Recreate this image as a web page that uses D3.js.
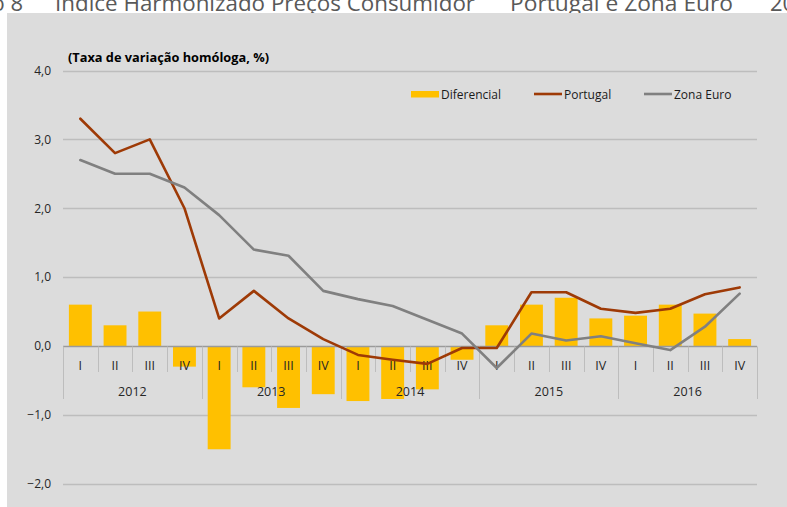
<!DOCTYPE html>
<html>
<head>
<meta charset="utf-8">
<script src="https://cdn.jsdelivr.net/npm/d3@7"></script>
<style>
  html, body { margin: 0; padding: 0; background: #ffffff; }
  svg { display: block; }
  text { font-family: "Open Sans", "Liberation Sans", sans-serif; }
</style>
</head>
<body>
<svg id="chart" width="787" height="507"></svg>
<script>
// ---- Data ----
const years = ["2012", "2013", "2014", "2015", "2016"];
const quarters = ["I", "II", "III", "IV"];
const diferencial = [0.6, 0.3, 0.5, -0.3,  -1.5, -0.6, -0.9, -0.7,  -0.8, -0.77, -0.63, -0.2,  0.3, 0.6, 0.7, 0.4,  0.44, 0.6, 0.47, 0.1];
const portugal    = [3.3, 2.8, 3.0, 2.0,   0.4, 0.8, 0.4, 0.1,   -0.13, -0.2, -0.26, -0.03,  -0.03, 0.78, 0.78, 0.54,  0.48, 0.54, 0.75, 0.85];
const zonaEuro    = [2.7, 2.5, 2.5, 2.3,   1.9, 1.4, 1.31, 0.8,   0.68, 0.58, 0.38, 0.18,  -0.32, 0.18, 0.08, 0.14,  0.04, -0.06, 0.28, 0.76];
const yTicks = [-2, -1, 0, 1, 2, 3, 4];
const seriesNames = ["Diferencial", "Portugal", "Zona Euro"];
const seriesColors = ["#FFC000", "#9E3A06", "#808080"];
const titleParts = ["Gráfico 8", "Índice Harmonizado Preços Consumidor", "Portugal e Zona Euro", "2012-2016"];

const cats = [];
years.forEach(y => quarters.forEach(q => cats.push(y + "-" + q)));

const svg = d3.select("#chart");

// Top (cropped) title
const tg = svg.append("g").attr("font-size", 22).attr("fill", "#595959");
tg.append("text").attr("x", 23).attr("y", 11).attr("text-anchor", "end").text(titleParts[0]);
tg.append("text").attr("x", 55).attr("y", 11).attr("textLength", 420).attr("lengthAdjust", "spacingAndGlyphs").text(titleParts[1]);
tg.append("text").attr("x", 510).attr("y", 11).attr("textLength", 223).attr("lengthAdjust", "spacingAndGlyphs").text(titleParts[2]);
tg.append("text").attr("x", 770).attr("y", 11).text(titleParts[3]);

// Panel background
svg.append("rect")
  .attr("x", 7).attr("y", 13).attr("width", 780).attr("height", 494)
  .attr("fill", "#DCDCDC");

// Scales
const x = d3.scaleBand().domain(cats).range([63, 757]).paddingInner(0.34).paddingOuter(0.17);
const step = x.step();
const cx = c => x(c) + x.bandwidth() / 2;
const y = d3.scaleLinear().domain([-2, 4]).range([483.7, 70.5]);

// Gridlines
svg.append("g").selectAll("line").data(yTicks.filter(t => t !== 0)).join("line")
  .attr("x1", 63).attr("x2", 757)
  .attr("y1", d => Math.round(y(d)) + 0.5).attr("y2", d => Math.round(y(d)) + 0.5)
  .attr("stroke", "#BDBDBD").attr("stroke-width", 1.3);

// Y axis labels
const yAxis = d3.axisLeft(y).tickValues(yTicks).tickSize(0).tickPadding(0)
  .tickFormat(d => d3.format(".1f")(d).replace(".", ","));
const yg = svg.append("g").attr("transform", "translate(51,0)").call(yAxis);
yg.select(".domain").remove();
yg.selectAll("text").attr("font-size", 12).attr("fill", "#262626")
  .attr("font-family", "Open Sans, Liberation Sans, sans-serif");

// Bars
svg.append("g").selectAll("rect").data(diferencial).join("rect")
  .attr("x", (d, i) => x(cats[i]))
  .attr("width", x.bandwidth())
  .attr("y", d => Math.min(y(d), y(0)))
  .attr("height", d => Math.abs(y(d) - y(0)))
  .attr("fill", seriesColors[0]);

// Category axis: zero line, dividers, labels
const y0 = Math.round(y(0)) + 0.5;
svg.append("line").attr("x1", 63).attr("x2", 757).attr("y1", y0).attr("y2", y0)
  .attr("stroke", "#9A9A9A").attr("stroke-width", 1.3);

const divs = d3.range(0, 21);
svg.append("g").selectAll("line").data(divs).join("line")
  .attr("x1", i => Math.round(63 + i * step) + 0.5)
  .attr("x2", i => Math.round(63 + i * step) + 0.5)
  .attr("y1", y0)
  .attr("y2", i => (i % 4 === 0) ? 399 : 372)
  .attr("stroke", "#BDBDBD").attr("stroke-width", 1);

svg.append("g").selectAll("text").data(cats).join("text")
  .attr("x", c => cx(c)).attr("y", 365)
  .attr("text-anchor", "middle").attr("dominant-baseline", "central")
  .attr("font-size", 12.5).attr("fill", "#262626")
  .text(c => c.split("-")[1]);

svg.append("g").selectAll("text").data(years).join("text")
  .attr("x", (yr, i) => 63 + (i * 4 + 2) * step).attr("y", 391)
  .attr("text-anchor", "middle").attr("dominant-baseline", "central")
  .attr("font-size", 12.5).attr("fill", "#262626")
  .text(d => d);

// Lines
const line = d3.line().x((d, i) => cx(cats[i])).y(d => y(d));
svg.append("path").datum(portugal).attr("d", line)
  .attr("fill", "none").attr("stroke", seriesColors[1]).attr("stroke-width", 2.6)
  .attr("stroke-linejoin", "round").attr("stroke-linecap", "round");
svg.append("path").datum(zonaEuro).attr("d", line)
  .attr("fill", "none").attr("stroke", seriesColors[2]).attr("stroke-width", 2.6)
  .attr("stroke-linejoin", "round").attr("stroke-linecap", "round");

// Subtitle
svg.append("text").attr("x", 68).attr("y", 57)
  .attr("dominant-baseline", "central")
  .attr("font-size", 12.5).attr("font-weight", "bold").attr("fill", "#000")
  .attr("textLength", 201).attr("lengthAdjust", "spacingAndGlyphs")
  .text("(Taxa de variação homóloga, %)");

// Legend
const legX = [411, 534, 644];
const lg = svg.append("g");
seriesNames.forEach((name, i) => {
  if (i === 0) {
    lg.append("rect").attr("x", legX[i]).attr("y", 91).attr("width", 28).attr("height", 6.5)
      .attr("fill", seriesColors[i]);
  } else {
    lg.append("line").attr("x1", legX[i]).attr("x2", legX[i] + 28).attr("y1", 94).attr("y2", 94)
      .attr("stroke", seriesColors[i]).attr("stroke-width", 2.6);
  }
  lg.append("text").attr("x", legX[i] + 30).attr("y", 94)
    .attr("dominant-baseline", "central")
    .attr("font-size", 12).attr("fill", "#1a1a1a").text(name);
});
</script>
</body>
</html>
